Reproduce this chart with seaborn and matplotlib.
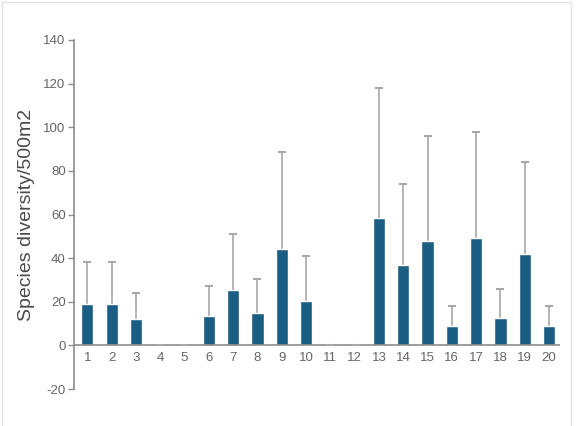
import numpy as np
import pandas as pd
import matplotlib
matplotlib.use("Agg")
import matplotlib.pyplot as plt
import seaborn as sns
from matplotlib.patches import Rectangle
from matplotlib.transforms import blended_transform_factory, ScaledTranslation

# values
sites = [str(i) for i in range(1, 21)]
means = [19, 19, 12, 0, 0, 13.5, 25.5, 15, 44, 20.5,
         0, 0, 58.5, 37, 48, 9, 49, 12.5, 42, 9]
upper = [38, 38, 24, 0, 0, 27, 51, 30.5, 88.5, 41,
         0, 0, 118, 74, 96, 18, 98, 26, 84, 18]

BAR = "#1b5e84"
TXT = "#666666"

sns.set_theme(style="white")
plt.rcParams["font.family"] = ["Liberation Sans", "DejaVu Sans"]
plt.rcParams["axes.unicode_minus"] = False

df = pd.DataFrame({"site": sites, "mean": means, "upper": upper})

fig = plt.figure(figsize=(5.79, 4.26), dpi=100)
fig.patches.append(Rectangle((2 / 579, -0.01), 569 / 579, 1 - 2 / 426 + 0.01,
                             transform=fig.transFigure, fill=False,
                             edgecolor="#e4e4e4", linewidth=1))
ax = fig.add_axes([74 / 579, 1 - 389 / 426, (560 - 74) / 579, (389 - 40) / 426])

sns.barplot(data=df, x="site", y="mean", color=BAR, saturation=1,
            width=0.5, ax=ax, errorbar=None, zorder=2)

# upper error only
err = df["upper"] - df["mean"]
_, caps, bars = ax.errorbar(np.arange(len(df)), df["mean"],
                            yerr=[np.zeros(len(df)), err], fmt="none",
                            ecolor="#a8a8a8", elinewidth=1.2, capsize=3,
                            capthick=1.5, zorder=1)
caps[0].set_visible(False)
caps[1].set_color("#6e6e6e")
caps[1].set_zorder(4)

ax.axhline(0, color="#8c8c8c", linewidth=1.2, zorder=3)

ax.set_ylim(-20, 140)
ax.set_xlim(-0.55, 19.45)
ax.set_yticks(range(-20, 141, 20))
ax.set_xlabel("")
ax.set_ylabel("Species diversity/500m2", fontsize=14, color="#4a4a4a",
              labelpad=6)

for s in ["top", "right", "bottom"]:
    ax.spines[s].set_visible(False)
ax.spines["left"].set_color("#8c8c8c")
ax.spines["left"].set_linewidth(1.2)

ax.tick_params(axis="y", left=True, length=4, width=1, color="#8c8c8c",
               labelsize=9.5, labelcolor=TXT, pad=2)
ax.tick_params(axis="x", bottom=False, labelsize=9.5, labelcolor=TXT, pad=0)

# x labels sit just under the zero line
off = ScaledTranslation(0, -5 / 72, fig.dpi_scale_trans)
for lbl in ax.get_xticklabels():
    lbl.set_y(0.0)
    lbl.set_transform(blended_transform_factory(ax.transData, ax.transData) + off)
    lbl.set_va("top")

fig.savefig("out.png", dpi=100)
